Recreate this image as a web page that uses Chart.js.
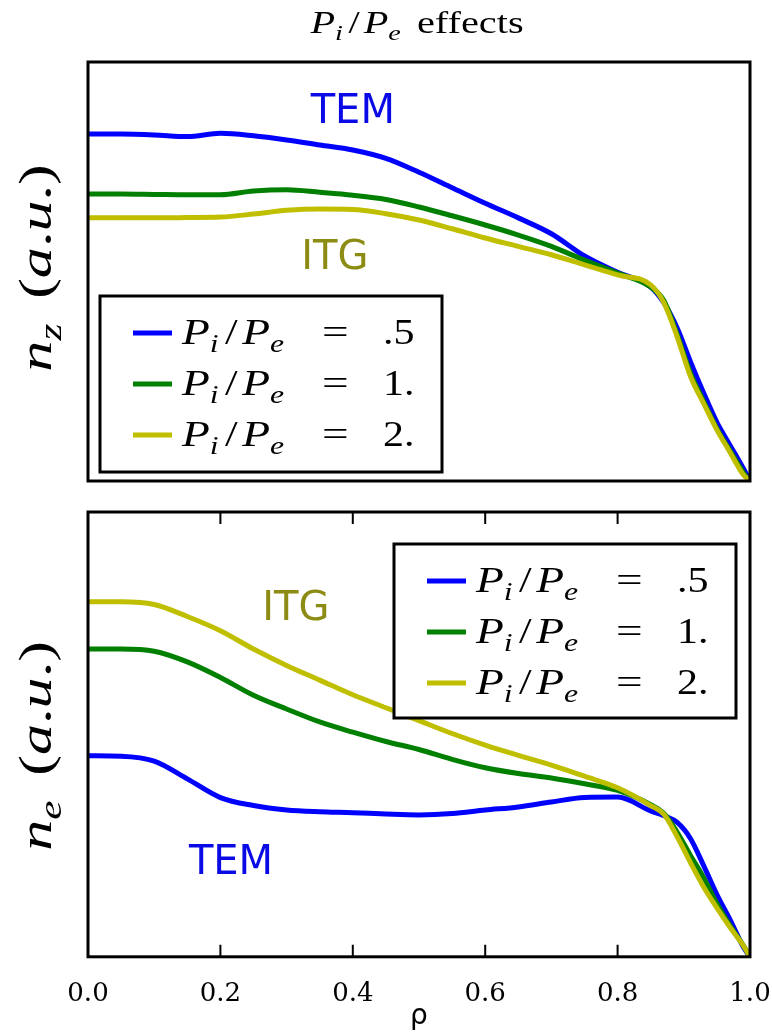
<!DOCTYPE html>
<html>
<head>
<meta charset="utf-8">
<script src="https://cdn.jsdelivr.net/npm/chart.js@4/dist/chart.umd.min.js"></script>
<style>
  body { margin: 0; background: #fff; width: 772px; height: 1032px; overflow: hidden; position: relative; }
  canvas { position: absolute; left: 0; }
  #top { top: 0; }
  #bot { top: 500px; }
</style>
</head>
<body>
<canvas id="top" width="772" height="500"></canvas>
<canvas id="bot" width="772" height="532"></canvas>
<script>
// radial coordinate, shared by both panels
const rho = [0, .05, .1, .15, .2, .25, .3, .35, .4, .45, .5, .55, .6, .65, .7, .75, .8, .85, .87, .89, .91, .93, .95, .97, .99, 1];

// n_z (a.u.) - top panel
const nzLow  = [.828, .828, .826, .822, .830, .824, .814, .802, .790, .770, .737, .700, .663, .628, .590, .537, .498, .463, .425, .365, .285, .210, .140, .085, .030, 0];
const nzMid  = [.685, .685, .684, .683, .683, .692, .695, .689, .682, .672, .654, .633, .611, .587, .560, .527, .496, .463, .430, .350, .258, .190, .125, .072, .020, 0];
const nzHigh = [.628, .628, .628, .629, .630, .637, .646, .649, .648, .638, .623, .602, .580, .560, .540, .516, .492, .468, .425, .344, .250, .185, .122, .068, .015, 0];

// n_e (a.u.) - bottom panel
const neLow  = [.452, .451, .440, .400, .358, .340, .330, .326, .324, .321, .319, .322, .330, .337, .348, .358, .359, .328, .317, .302, .266, .205, .140, .083, .022, 0];
const neMid  = [.692, .692, .687, .663, .628, .588, .557, .528, .505, .484, .466, .444, .425, .412, .402, .389, .374, .342, .322, .280, .228, .178, .120, .070, .025, 0];
const neHigh = [.798, .798, .792, .765, .733, .692, .655, .622, .589, .560, .531, .502, .476, .453, .431, .406, .380, .340, .320, .270, .212, .157, .110, .066, .025, 0];

const ratioLabels = ['.5', '1.', '2.'];
const xTickStep = 0.2;

const colors = ['#0000ff', '#007f00', '#bfbf00'];
const SERIF = '"Liberation Serif", "DejaVu Serif", serif';
const SANS = '"DejaVu Sans", sans-serif';

// draws a run of math-ish text pieces (stretched by sx), returns its width
function drawRich(ctx, segs, x, y, size, align, sx) {
    sx = sx || 1;
    let w = 0;
    const parts = segs.map(s => {
        const fs = s.sub ? size * 0.7 : size;
        const font = (s.it ? 'italic ' : '') + fs + 'px ' + SERIF;
        ctx.font = font;
        const sw = ctx.measureText(s.t).width;
        const p = {s: s, font: font, dx: w + (s.pre || 0) * size};
        w += sw + ((s.pre || 0) + (s.gap || 0)) * size;
        return p;
    });
    const x0 = align === 'center' ? x - w * sx / 2 : x;
    ctx.save();
    ctx.translate(x0, y);
    ctx.scale(sx, 1);
    ctx.textAlign = 'left';
    ctx.textBaseline = 'alphabetic';
    parts.forEach(p => {
        ctx.font = p.font;
        ctx.fillText(p.s.t, p.dx, p.s.sub ? size * 0.22 : 0);
    });
    ctx.restore();
    return w * sx;
}

const piPe = [
    {t: 'P', it: true}, {t: 'i', it: true, sub: true, gap: 0.14},
    {t: '/', gap: 0.1}, {t: 'P', it: true}, {t: 'e', it: true, sub: true}
];

function series(vals) {
    return rho.map((r, i) => ({x: r, y: vals[i]}));
}

function makeDatasets(low, mid, high) {
    return [low, mid, high].map((v, i) => ({
        label: ratioLabels[i],
        data: series(v),
        borderColor: colors[i],
        borderWidth: 5,
        pointRadius: 0,
        cubicInterpolationMode: 'monotone',
        order: 2 - i
    }));
}

const panelPlugin = {
    id: 'panel',
    afterDatasetsDraw(chart, args, opts) {
        const ctx = chart.ctx;
        const a = chart.chartArea;
        const xs = chart.scales.x, ys = chart.scales.y;
        ctx.save();

        // inner ticks, top and bottom edge
        if (opts.ticks) {
            ctx.strokeStyle = '#000';
            ctx.lineWidth = 2;
            xs.ticks.forEach(t => {
                if (t.value <= 0 || t.value >= 1) return;
                const px = xs.getPixelForValue(t.value);
                ctx.beginPath();
                ctx.moveTo(px, a.bottom); ctx.lineTo(px, a.bottom - 12);
                ctx.moveTo(px, a.top); ctx.lineTo(px, a.top + 12);
                ctx.stroke();
            });
        }

        // TEM / ITG notes
        ctx.font = '40px ' + SANS;
        ctx.textAlign = 'center';
        ctx.textBaseline = 'middle';
        opts.notes.forEach(n => {
            ctx.fillStyle = n.color;
            ctx.fillText(n.text, xs.getPixelForValue(n.x), ys.getPixelForValue(n.y));
        });

        // legend
        const b = opts.legend;
        ctx.fillStyle = '#fff';
        ctx.fillRect(b.x, b.y, b.w, b.h);
        ctx.strokeStyle = '#000';
        ctx.lineWidth = 3;
        ctx.strokeRect(b.x, b.y, b.w, b.h);
        chart.data.datasets.forEach((ds, i) => {
            const ly = b.y + 37 + i * 51;
            ctx.strokeStyle = ds.borderColor;
            ctx.lineWidth = 5;
            ctx.beginPath();
            ctx.moveTo(b.x + 33, ly); ctx.lineTo(b.x + 72, ly);
            ctx.stroke();
            ctx.fillStyle = '#000';
            const tx = b.x + 82;
            drawRich(ctx, piPe, tx, ly + 11, 35, 'left', 1.3);
            drawRich(ctx, [{t: '='}], tx + 140, ly + 11, 35, 'left', 1.35);
            drawRich(ctx, [{t: ds.label}], tx + 201, ly + 11, 35, 'left', 1.2);
        });

        // frame
        ctx.strokeStyle = '#000';
        ctx.lineWidth = 3;
        ctx.strokeRect(a.left, a.top, a.right - a.left, a.bottom - a.top);

        // y label
        ctx.fillStyle = '#000';
        ctx.save();
        ctx.translate(51, opts.ylabelY);
        ctx.rotate(-Math.PI / 2);
        drawRich(ctx, [
            {t: 'n', it: true}, {t: opts.sub, it: true, sub: true, gap: 0.4},
            {t: '('}, {t: 'a', it: true}, {t: '.'}, {t: 'u', it: true}, {t: '.'}, {t: ')'}
        ], 0, 0, 46, 'center', 1.35);
        ctx.restore();

        // title / x label
        if (opts.title) {
            drawRich(ctx, piPe.concat([{t: 'effects', pre: 0.4}]), 417, 33, 31, 'center', 1.3);
        }
        if (opts.xlabel) {
            ctx.font = '28px ' + SANS;
            ctx.textAlign = 'center';
            ctx.textBaseline = 'middle';
            ctx.fillText('ρ', (a.left + a.right) / 2, 517);
        }
        ctx.restore();
    }
};

function makeChart(id, datasets, showX, padding, panel) {
    return new Chart(document.getElementById(id), {
        type: 'line',
        data: {datasets: datasets},
        options: {
            responsive: false,
            animation: false,
            devicePixelRatio: 1,
            layout: {padding: padding},
            plugins: {legend: {display: false}, tooltip: {enabled: false}, panel: panel},
            scales: {
                x: {
                    type: 'linear', min: 0, max: 1,
                    display: showX,
                    border: {display: false},
                    grid: {display: false, drawTicks: false},
                    ticks: {
                        stepSize: xTickStep, padding: 22, maxRotation: 0, autoSkip: false,
                        color: '#000', font: {family: '"DejaVu Serif", serif', size: 26},
                        callback: v => v.toFixed(1)
                    },
                    // keep the plot edges where the layout padding puts them
                    afterFit: s => { s.paddingLeft = 0; s.paddingRight = 0; }
                },
                y: {type: 'linear', min: 0, max: 1, display: false}
            }
        },
        plugins: [panelPlugin]
    });
}

makeChart('top', makeDatasets(nzLow, nzMid, nzHigh), false,
    {left: 88, right: 22, top: 62, bottom: 19},
    {
        ticks: false, title: true, xlabel: false, sub: 'z', ylabelY: 268,
        legend: {x: 100, y: 296, w: 342, h: 176},
        notes: [
            {text: 'TEM', x: 0.40, y: 0.88, color: '#0a0ae6'},
            {text: 'ITG', x: 0.373, y: 0.53, color: '#8c8c14'}
        ]
    });

makeChart('bot', makeDatasets(neLow, neMid, neHigh), true,
    {left: 88, right: 22, top: 12, bottom: 0},
    {
        ticks: true, title: false, xlabel: true, sub: 'e', ylabelY: 246,
        legend: {x: 394, y: 44, w: 342, h: 174},
        notes: [
            {text: 'ITG', x: 0.314, y: 0.78, color: '#8c8c14'},
            {text: 'TEM', x: 0.216, y: 0.21, color: '#0a0ae6'}
        ]
    });
</script>
</body>
</html>
